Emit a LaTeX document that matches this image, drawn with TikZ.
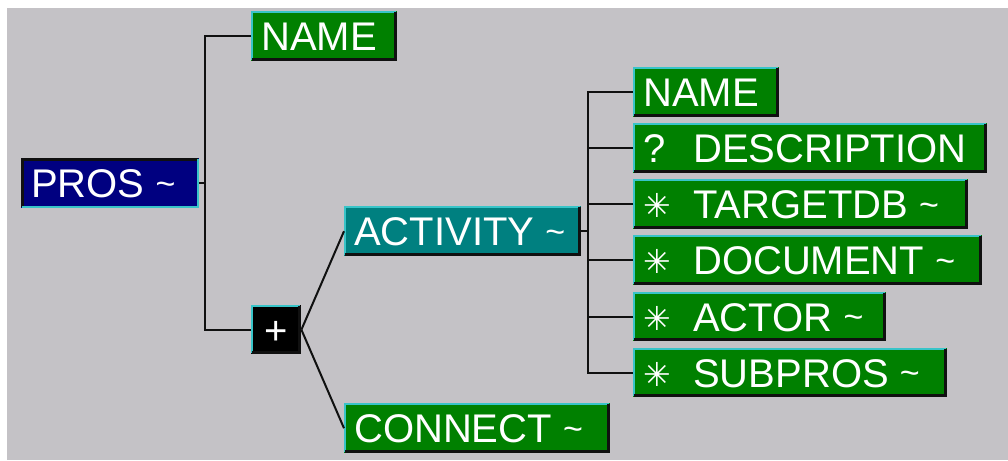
\documentclass[tikz,border=0pt]{standalone}
\usepackage{fontspec}
\setmainfont{Liberation Sans}
\newfontfamily\dv{DejaVu Sans}
\definecolor{bg}{HTML}{C4C2C6}
\definecolor{wgreen}{HTML}{008000}
\definecolor{wteal}{HTML}{008080}
\definecolor{wnavy}{HTML}{000080}
\definecolor{hilite}{HTML}{38C4C8}
\definecolor{shade}{HTML}{101010}
\newcommand\lbl[2]{\makebox[#1pt][l]{#2}}
\newcommand\pre[1]{\makebox[50pt][l]{#1}}
\newcommand\myast{{\dv\fontsize{33}{33}\selectfont\raisebox{1pt}{✳}}}
\newcommand\tl{\raisebox{2.5pt}{\fontsize{34}{34}\selectfont\textasciitilde}}
\newcommand\raisededge[1]{%
  \draw[hl] ([shift={(1.2,-1.2)}]#1.south west) -- ([shift={(1.2,1.2)}]#1.north west) -- ([shift={(-1.2,1.2)}]#1.north east);
  \draw[sh] ([shift={(-1.5,1.2)}]#1.north east) -- ([shift={(-1.5,-1.5)}]#1.south east) -- ([shift={(1.2,-1.5)}]#1.south west);}
\newcommand\sunkenedge[1]{%
  \draw[sh] ([shift={(1.5,-1.2)}]#1.south west) -- ([shift={(1.5,1.5)}]#1.north west) -- ([shift={(-1.2,1.5)}]#1.north east);
  \draw[hl] ([shift={(-1.2,1.2)}]#1.north east) -- ([shift={(-1.2,-1.2)}]#1.south east) -- ([shift={(1.2,-1.2)}]#1.south west);}
\begin{document}
\begin{tikzpicture}[x=1pt,y=-1pt,
  box/.style={rectangle, anchor=north west, minimum height=50pt, inner xsep=10pt, inner ysep=0pt,
    text=white, font=\fontsize{40}{40}\selectfont, text height=29pt, text depth=0pt},
  gbox/.style={box, fill=wgreen},
  hl/.style={draw=hilite, line width=2.4pt},
  sh/.style={draw=shade, line width=3pt},
  conn/.style={draw=shade, line width=2pt}]
\useasboundingbox (0,0) rectangle (1008,460);
\fill[white] (0,0) rectangle (1008,460);
\fill[bg] (7,8) rectangle (1008,460);
% nodes
\node[box, fill=wnavy] (pros) at (21,158) {\lbl{158}{PROS \tl}};
\node[gbox] (name1) at (251,11) {\lbl{126}{NAME}};
\node[box, fill=black, minimum width=50pt, minimum height=49pt, inner xsep=0pt] (plus) at (251,305) {+};
\node[box, fill=wteal] (act) at (344,206) {\lbl{217}{ACTIVITY \tl}};
\node[gbox] (conn1) at (344,403) {\lbl{246}{CONNECT \tl}};
\node[gbox] (r1) at (633,67) {\lbl{126}{NAME}};
\node[gbox] (r2) at (633,123) {\lbl{334}{\pre{?}DESCRIPTION}};
\node[gbox] (r3) at (633,179) {\lbl{315}{\pre{\myast}TARGETDB \tl}};
\node[gbox] (r4) at (633,235) {\lbl{329}{\pre{\myast}DOCUMENT \tl}};
\node[gbox, minimum height=49pt] (r5) at (633,292) {\lbl{233}{\pre{\myast}ACTOR \tl}};
\node[gbox, minimum height=49pt] (r6) at (633,348) {\lbl{294}{\pre{\myast}SUBPROS \tl}};
% bevels
\sunkenedge{pros}
\foreach \n in {name1,plus,act,conn1,r1,r2,r3,r4,r5,r6}{\raisededge{\n}}
% connectors
\coordinate (j1) at (205,0);
\coordinate (j2) at (588,0);
\draw[conn] (pros.east) -- (pros.east -| j1);
\draw[conn] (name1.west) -| (j1 |- plus.west) -- (plus.west);
\draw[conn] (plus.east) -- (act.west);
\draw[conn] (plus.east) -- (conn1.west);
\draw[conn] (act.east) -- (act.east -| j2);
\draw[conn] (r1.west) -| (j2 |- r6.west) -- (r6.west);
\foreach \n in {r2,r3,r4,r5}{\draw[conn] (\n.west) -- (\n.west -| j2);}
\end{tikzpicture}
\end{document}
